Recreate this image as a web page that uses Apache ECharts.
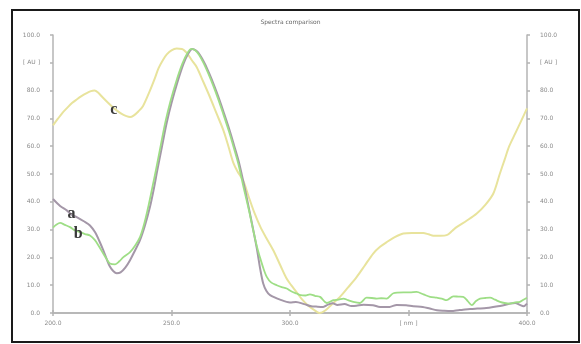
<!DOCTYPE html>
<html>
<head>
<meta charset="utf-8">
<script src="https://cdn.jsdelivr.net/npm/echarts@6/dist/echarts.min.js"></script>
<style>html,body{margin:0;padding:0;background:#fff;}#c{width:581px;height:344px;}</style>
</head>
<body>
<div id="c"></div>
<script>
var TITLE = 'Spectra comparison';
var X_TICKS = {200:'200.0', 250:'250.0', 300:'300.0', 350:'[ nm ]', 400:'400.0'};
var Y_TICKS = {0:'0.0',10:'10.0',20:'20.0',30:'30.0',40:'40.0',50:'50.0',60:'60.0',70:'70.0',80:'80.0',90:'[ AU ]',100:'100.0'};

var seriesA = [[200,41],[203,38.5],[205.8,36.9],[208,35.3],[210,34.5],[213,33],[215.6,31.5],[217.7,29.1],[219.5,26],[221.2,22.6],[222.7,19.3],[224,16.7],[225.5,15],[226.9,14.3],[228.5,14.6],[230.5,16.3],[232.5,19],[234.6,22.5],[236.7,26.2],[238.8,31.5],[240.9,38.1],[242.5,44.5],[244,51.3],[246,60],[248,68.5],[250,75.5],[252.5,83],[255,89.5],[257,93.3],[258.8,95],[260.5,94.3],[262,92.8],[264,89.8],[266,86],[268,81.8],[270,77.2],[272,72.2],[274.7,65.2],[276.5,60],[278.6,53.7],[281,44.5],[283.1,35.8],[285.9,23.7],[287.5,15.5],[288.7,10.6],[290,8],[291.6,6.4],[295.8,4.8],[300,3.8],[302.5,4],[306,3.2],[309,2.4],[311,2.3],[314,2.2],[316,3],[318,3.5],[320,2.9],[323,3.2],[326,2.5],[328,2.6],[331,3],[335,2.8],[338,2.2],[342,2.2],[345,2.9],[349,2.8],[352,2.4],[356,2.2],[359,1.6],[362,1],[365,0.8],[368,0.7],[371,1],[373,1.2],[376,1.4],[379,1.6],[382,1.7],[384,1.9],[387,2.3],[391,3],[393,3.4],[395,3.6],[397,2.9],[398.5,2.4],[400,3.4]];

var seriesB = [[200,30.7],[201.5,31.8],[203,32.4],[205,31.7],[207.2,30.9],[209,29.8],[211.4,29.1],[213.5,28.4],[215.6,27.9],[217.7,26.2],[219.5,23.8],[221.2,21.4],[222.7,19.3],[224,17.8],[226.2,17.5],[228,18.6],[229.7,20.1],[232.5,21.9],[234.6,24.2],[236.7,27.3],[238.6,32.5],[240.5,39.4],[242,45.5],[243.4,51.3],[245.5,60.5],[247.5,69],[249.5,76],[252,83.3],[254.5,89.5],[256.8,93.6],[258.4,95],[260,94.5],[261.6,92.9],[263.6,89.8],[265.6,86],[267.6,81.8],[269.6,77.2],[271.6,72.2],[274.3,65.2],[276.1,60],[278.2,53.7],[280.6,44.5],[282.8,36.5],[284.5,29.7],[286,24],[287.3,20.1],[288.8,16],[290.2,13],[292,11],[294.4,10],[296.5,9.3],[298.6,8.8],[300.5,7.8],[302.8,7],[304.5,6.4],[306.5,6.3],[308.4,6.7],[310.5,6.2],[312.7,5.8],[315.5,3.6],[318.3,4.6],[320.5,4.8],[322.5,5.2],[324.5,4.6],[326.7,4],[329.5,3.6],[332.3,5.5],[334.5,5.4],[336.6,5.2],[338.5,5.3],[340.8,5.2],[343.6,7.1],[347.8,7.4],[350.5,7.4],[353.4,7.6],[356.3,6.7],[359.1,5.8],[361.9,5.5],[364,5.2],[366.1,4.6],[368.9,6],[371,5.9],[373.1,5.8],[375,4.3],[376.7,2.8],[378.5,4.3],[380.2,5.2],[382.5,5.4],[384.4,5.5],[386.5,4.8],[388.6,4],[390.5,3.6],[392.8,3.4],[395,3.8],[397,4],[398.5,4.8],[400,5.5]];

var seriesC = [[200,67.5],[202,69.8],[204,72],[206,73.8],[208,75.5],[210,76.8],[212,78],[214,79],[216,79.8],[217.5,80],[219,79.3],[221,77.5],[223,75.8],[225,74.2],[227,72.8],[229,71.6],[231,70.8],[232.5,70.5],[234,71],[236,72.5],[238,74.5],[240.9,80],[243,84.5],[244.5,88],[246.4,91],[248,93],[250,94.5],[252.2,95.1],[254.4,95],[256.5,93.5],[258.5,91],[260.6,88.5],[263.5,83],[266.2,77.7],[269,71.8],[271.9,65.7],[274,60],[276.1,54],[277.8,51],[280.3,47.5],[282.5,42],[285,36],[287.5,31],[290,27],[293,22.5],[296,17],[298.5,12.5],[300.5,10],[302.5,7.8],[305,5],[307.5,2.8],[310,1.2],[312.5,0],[315,1],[317.5,3],[321.1,5.8],[324.5,9.2],[328.1,12.9],[331.5,17],[335.1,21.4],[338,23.8],[340.8,25.5],[344,27.2],[347.8,28.6],[351.5,28.8],[356.2,28.8],[358.5,28.3],[360.5,27.8],[363.5,27.8],[366.1,28],[368.5,29.6],[370.3,30.9],[374.5,33.2],[378.8,35.8],[382.5,39],[385.8,43],[388.5,50],[390.5,55],[392.5,60],[395,64.5],[397.5,69],[400,73.6]];

var LABELS_A = [{text:'a', coord:[207.8, 35.6]}];
var LABELS_B = [{text:'b', coord:[210.6, 28.6]}];
var LABELS_C = [{text:'c', coord:[225.7, 73.0]}];

function marks(list){
  return {
    silent: true,
    symbol: 'circle',
    symbolSize: 1,
    itemStyle: {color: 'rgba(0,0,0,0)'},
    label: {show: true, position: 'inside', fontFamily: 'Liberation Serif', fontWeight: 'bold', fontSize: 16, color: '#3a3a3a'},
    data: list.map(function(l){ return {coord: l.coord, value: l.text, label: {formatter: l.text}}; })
  };
}

var axisLineStyle = {color: '#b4b4b4', width: 1.5};

var chart = echarts.init(document.getElementById('c'), null, {renderer: 'canvas'});
chart.setOption({
  animation: false,
  backgroundColor: '#fff',
  title: {text: TITLE, left: 'center', top: 14, textStyle: {fontSize: 6, fontWeight: 'normal', color: '#666', fontFamily: 'DejaVu Sans'}},
  grid: {left: 53, right: 54, top: 35, bottom: 31, containLabel: false},
  graphic: [{type: 'rect', shape: {x: 12, y: 10, width: 567, height: 332}, style: {fill: 'none', stroke: '#1a1a1a', lineWidth: 2}, silent: true, z: 100}],
  xAxis: [
    {type: 'value', min: 200, max: 400, interval: 50, position: 'bottom',
     axisLine: {show: true, lineStyle: axisLineStyle}, axisTick: {show: true, length: 3, lineStyle: axisLineStyle},
     splitLine: {show: false},
     axisLabel: {margin: 7, formatter: function(v){ return X_TICKS[v] || ''; }, fontSize: 6, color: '#8a8a8a', fontFamily: 'DejaVu Sans'}},
    {type: 'value', min: 200, max: 400, interval: 50, position: 'top',
     axisLine: {show: true, lineStyle: axisLineStyle}, axisTick: {show: true, length: 3, lineStyle: axisLineStyle},
     splitLine: {show: false}, axisLabel: {show: false}}
  ],
  yAxis: [
    {type: 'value', min: 0, max: 100, interval: 10, position: 'left',
     axisLine: {show: true, lineStyle: axisLineStyle}, axisTick: {show: true, length: 3, lineStyle: axisLineStyle},
     splitLine: {show: false},
     axisLabel: {margin: 13, formatter: function(v){ return Y_TICKS[v] || ''; }, fontSize: 6, color: '#8a8a8a', fontFamily: 'DejaVu Sans'}},
    {type: 'value', min: 0, max: 100, interval: 10, position: 'right',
     axisLine: {show: true, lineStyle: axisLineStyle}, axisTick: {show: true, length: 3, lineStyle: axisLineStyle},
     splitLine: {show: false},
     axisLabel: {margin: 13, formatter: function(v){ return Y_TICKS[v] || ''; }, fontSize: 6, color: '#8a8a8a', fontFamily: 'DejaVu Sans'}}
  ],
  series: [
    {name: 'c', type: 'line', data: seriesC, showSymbol: false, smooth: 0.3, lineStyle: {color: '#e8e39c', width: 2}, itemStyle: {color: '#e8e39c'}, markPoint: marks(LABELS_C), z: 2},
    {name: 'a', type: 'line', data: seriesA, showSymbol: false, smooth: 0.3, lineStyle: {color: '#a497a8', width: 2}, itemStyle: {color: '#a497a8'}, markPoint: marks(LABELS_A), z: 3},
    {name: 'b', type: 'line', data: seriesB, showSymbol: false, smooth: 0.3, lineStyle: {color: '#9ede86', width: 1.8}, itemStyle: {color: '#9ede86'}, markPoint: marks(LABELS_B), z: 4}
  ]
});
</script>
</body>
</html>
